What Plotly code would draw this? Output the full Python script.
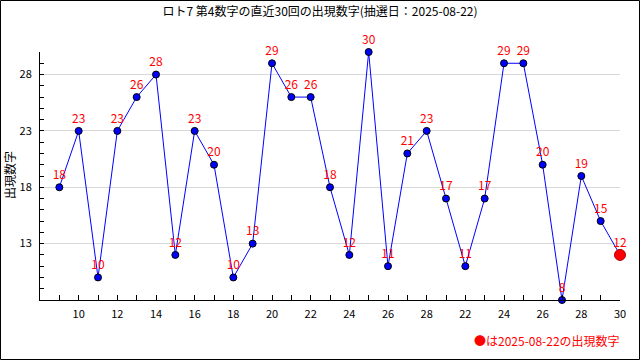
import plotly.graph_objects as go

draw_index = list(range(1, 31))
values = [18, 23, 10, 23, 26, 28, 12, 23, 20, 10, 13, 29, 26, 26, 18, 12, 30, 11,
          21, 23, 17, 11, 17, 29, 29, 20, 8, 19, 15, 12]
x_tickvals = [2, 4, 6, 8, 10, 12, 14, 16, 18, 20, 22, 24, 26, 28, 30]
x_ticktext = ["10", "12", "14", "16", "18", "20", "22", "24", "26", "28",
              "22", "24", "26", "28", "30"]
y_tickvals = [13, 18, 23, 28]

title_text = "ロト7 第4数字の直近30回の出現数字(抽選日：2025-08-22)"
ytitle_text = "出現数字"
legend_text = "●は2025-08-22の出現数字"

FONT = "Noto Sans CJK JP"
W, H = 640, 360
L, R, T, B = 40, 20, 52, 60
pw, ph = W - L - R, H - T - B

fig = go.Figure()
fig.add_trace(go.Scatter(
    x=draw_index, y=values, mode="lines+markers+text",
    line=dict(color="#0000ff", width=1),
    marker=dict(color="#0000ff", size=7, line=dict(color="black", width=1)),
    text=[str(v) for v in values], textposition="top center",
    textfont=dict(color="#ff0000", size=12, family=FONT),
    cliponaxis=False, hoverinfo="skip", showlegend=False,
))
fig.add_trace(go.Scatter(
    x=[draw_index[-1]], y=[values[-1]], mode="markers",
    marker=dict(color="#ff0000", size=11, line=dict(color="#b00000", width=1)),
    cliponaxis=False, hoverinfo="skip", showlegend=False,
))

def px_x(p):
    return (p - L) / pw

def px_y(p):
    return (H - B - p) / ph

fig.update_layout(
    width=W, height=H,
    margin=dict(l=L, r=R, t=T, b=B, autoexpand=False),
    paper_bgcolor="white", plot_bgcolor="white",
    font=dict(family=FONT, size=12, color="black"),
    title=dict(text=title_text, x=0.5, xanchor="center", xref="container",
               y=1 - 12 / H, yanchor="middle", yref="container",
               font=dict(size=12, color="black", family=FONT)),
    xaxis=dict(range=[0, 30], tickvals=x_tickvals, ticktext=x_ticktext,
               ticks="inside", ticklen=5, tickcolor="black",
               showline=True, linecolor="black", linewidth=1,
               showgrid=False, zeroline=False, automargin=False,
               ticklabelstandoff=4,
               tickfont=dict(size=11, family=FONT),
               minor=dict(dtick=1, tick0=0, ticks="inside", ticklen=5, tickcolor="black", showgrid=False)),
    yaxis=dict(range=[8, 30], tickvals=y_tickvals,
               ticks="inside", ticklen=4, tickcolor="black",
               showline=True, linecolor="black", linewidth=1,
               showgrid=True, gridcolor="#d8d8d8", gridwidth=1, zeroline=False,
               automargin=False, ticklabelstandoff=5,
               tickfont=dict(size=11, family=FONT),
               minor=dict(dtick=1, tick0=8, ticks="inside", ticklen=4, tickcolor="black", showgrid=False)),
    shapes=[dict(type="rect", xref="paper", yref="paper",
                 x0=px_x(0.5), x1=px_x(639.5), y0=px_y(359.5), y1=px_y(0.5),
                 line=dict(color="black", width=1), fillcolor="rgba(0,0,0,0)", layer="above")],
    annotations=[
        dict(text=ytitle_text, xref="paper", yref="paper", x=px_x(9), y=px_y(175),
             textangle=-90, showarrow=False, font=dict(size=12, color="black", family=FONT),
             xanchor="center", yanchor="middle"),
        dict(text=legend_text, xref="paper", yref="paper", x=px_x(622), y=px_y(340),
             showarrow=False, font=dict(size=12, color="#ff0000", family=FONT),
             xanchor="right", yanchor="middle"),
    ],
)

fig.write_html("out.html", config={"displayModeBar": False},
               post_script="document.body.style.margin='0';")
